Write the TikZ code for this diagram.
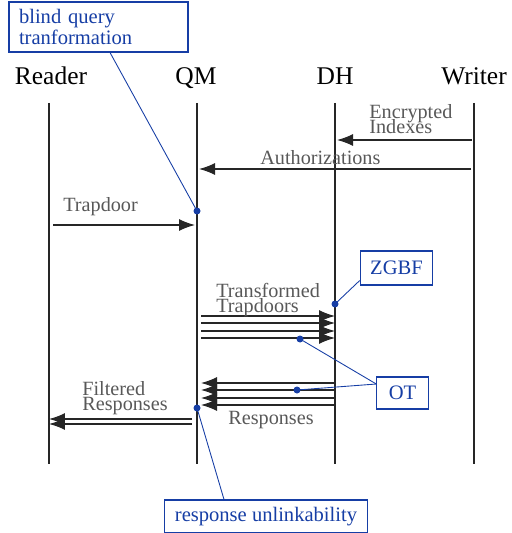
\documentclass[tikz,border=0pt]{standalone}
\usepackage{fontspec}
\setmainfont{Liberation Serif}
\usetikzlibrary{arrows.meta}
\definecolor{annot}{RGB}{22,62,165}
\definecolor{msggray}{RGB}{88,88,88}
\newcommand\tightlines{\lineskiplimit=-20pt\relax}
\begin{document}
\begin{tikzpicture}[x=0.02cm,y=-0.02cm,
  actor/.style={anchor=base,font=\fontsize{14.5}{17}\selectfont},
  lifeline/.style={line width=0.7pt,black!85},
  msg/.style={line width=0.7pt,black!85,-{Latex[length=0.32cm,width=0.24cm]}},
  msglabel/.style={text=msggray,inner sep=0pt,align=left,font=\fontsize{11.5}{8.5}\selectfont\tightlines},
  note/.style={draw=annot,text=annot,fill=white,line width=0.6pt,align=left,font=\fontsize{11.7}{11.5}\selectfont\tightlines},
  pin/.style={annot,line width=0.5pt},
  dot/.style={circle,fill=annot,inner sep=0pt,minimum size=0.14cm}]
\useasboundingbox (0,0) rectangle (511,533);

\node[actor] (reader) at (51,85) {Reader};
\node[actor] (qm) at (196,85) {QM};
\node[actor] (dh) at (335,85) {DH};
\node[actor] (writer) at (474,85) {Writer};
\foreach \n/\x in {reader/49,qm/197,dh/335,writer/474}{
  \coordinate (\n-top) at (\x,103);
  \coordinate (\n-bot) at (\x,464);
  \draw[lifeline] (\n-top) -- (\n-bot);
}

\coordinate (ei-a) at (472,140); \coordinate (ei-b) at (337,140);
\draw[msg] (ei-a) -- (ei-b);
\node[msglabel,anchor=north west] (ei) at (369,104) {Encrypted\\Indexes};

\coordinate (au-a) at (471,169); \coordinate (au-b) at (199,169);
\draw[msg] (au-a) -- (au-b);
\node[msglabel,anchor=base west] (au) at (260,165) {Authorizations};

\coordinate (td-a) at (53,225); \coordinate (td-b) at (195,225);
\draw[msg] (td-a) -- (td-b);
\node[msglabel,anchor=base west] (td) at (63,212) {Trapdoor};

\foreach \i/\y in {1/316,2/323,3/331,4/338}{
  \coordinate (tt\i-a) at (201,\y); \coordinate (tt\i-b) at (335,\y);
  \draw[msg] (tt\i-a) -- (tt\i-b);
}
\node[msglabel,anchor=north west] (tt) at (216,283) {Transformed\\Trapdoors};

\foreach \i/\y in {1/383,2/390,3/398,4/405}{
  \coordinate (rs\i-a) at (334,\y); \coordinate (rs\i-b) at (201,\y);
  \draw[msg] (rs\i-a) -- (rs\i-b);
}
\node[msglabel,anchor=base west] (rs) at (228,424) {Responses};

\foreach \i/\y in {1/419,2/424}{
  \coordinate (fr\i-a) at (192,\y); \coordinate (fr\i-b) at (49,\y);
  \draw[msg] (fr\i-a) -- (fr\i-b);
}
\node[msglabel,anchor=north west] (fr) at (82,381) {Filtered\\Responses};

\node[note,text width=3.18cm,inner xsep=0.2cm,minimum height=1cm] (blind) at (98.5,27) {blind query\\tranformation};
\node[note,inner xsep=0.2cm,minimum height=0.68cm] (zgbf) at (396.5,268) {ZGBF};
\node[note,inner xsep=0.24cm,minimum height=0.64cm] (ot) at (402.5,393) {OT};
\node[note,inner xsep=0.2cm,minimum height=0.66cm] (rul) at (266,516.5) {response unlinkability};

\node[dot] (d-blind) at (197,211) {};
\node[dot] (d-zgbf) at (335,304) {};
\node[dot] (d-ot1) at (300,339) {};
\node[dot] (d-ot2) at (297,390) {};
\node[dot] (d-rul) at (197,408) {};
\coordinate (ot-pin) at ([yshift=0.18cm]ot.west);
\draw[pin] ([xshift=0.23cm]blind.south) -- (d-blind.center);
\draw[pin] ([yshift=0.1cm]zgbf.south west) -- (d-zgbf.center);
\draw[pin] (ot-pin) -- (d-ot1.center);
\draw[pin] (ot-pin) -- (d-ot2.center);
\draw[pin] ([xshift=-0.84cm]rul.north) -- (d-rul.center);
\end{tikzpicture}
\end{document}
